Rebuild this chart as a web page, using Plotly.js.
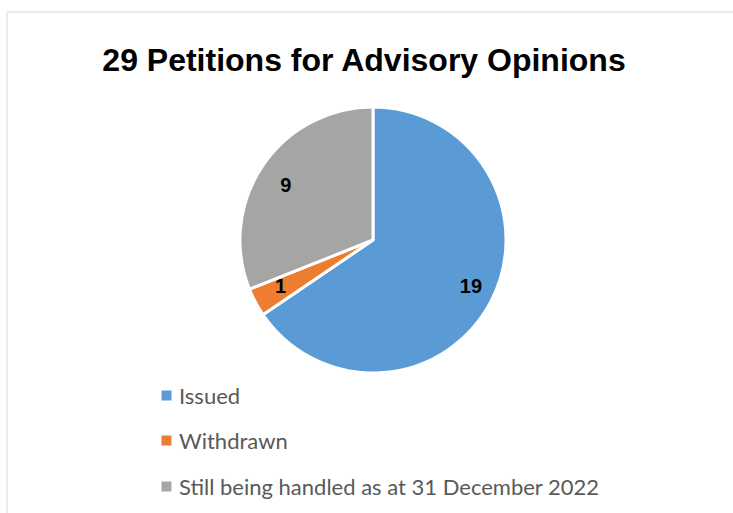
<!DOCTYPE html>
<html><head><meta charset="utf-8">
<script src="https://cdn.plot.ly/plotly-3.0.1.min.js"></script>
<style>html,body{margin:0;padding:0;background:#fff}#chart{width:733px;height:513px}</style>
</head><body><div id="chart"></div>
<script>
const labels = ["Issued", "Withdrawn", "Still being handled as at 31 December 2022"];
const values = [19, 1, 9];
const colors = ["#5B9BD5", "#ED7D31", "#A5A5A5"];
const titleText = "29 Petitions for Advisory Opinions";

const W = 733, H = 513;
const cx = 373, cy = 240, R = 133, RL = 92;
function dom(r) {
  return {x: [(cx - r) / W, (cx + r) / W], y: [1 - (cy + r) / H, 1 - (cy - r) / H]};
}

const data = [{
  type: "pie",
  labels: labels,
  values: values,
  sort: false,
  direction: "clockwise",
  rotation: 0,
  marker: {colors: colors, line: {color: "#ffffff", width: 3}},
  textinfo: "none",
  domain: dom(R),
  showlegend: false,
  hoverinfo: "label+value"
}, {
  type: "pie",
  labels: labels,
  values: values,
  sort: false,
  direction: "clockwise",
  rotation: 0,
  marker: {colors: ["rgba(0,0,0,0)", "rgba(0,0,0,0)", "rgba(0,0,0,0)"], line: {width: 0}},
  textinfo: "value",
  textposition: "outside",
  outsidetextfont: {family: "Liberation Sans, Arial, sans-serif", size: 20, color: "#000000", weight: "bold"},
  domain: dom(RL),
  showlegend: false,
  hoverinfo: "skip"
}];

const annotations = [];
const legTop = 395, legStep = 45.5;
labels.forEach((lab, i) => {
  const yy = 1 - (legTop + legStep * i) / H;
  annotations.push({xref: "paper", yref: "paper", x: 166 / W, y: yy, xanchor: "center", yanchor: "middle",
    text: " ", showarrow: false, width: 9, height: 9, bgcolor: colors[i], borderpad: 0, font: {size: 4}});
  annotations.push({xref: "paper", yref: "paper", x: 177 / W, y: yy, xanchor: "left", yanchor: "middle",
    text: lab, showarrow: false, font: {family: "Lato, sans-serif", size: 22, color: "#595959"}});
});

const layout = {
  width: W, height: H,
  margin: {l: 0, r: 0, t: 0, b: 0},
  paper_bgcolor: "#ffffff",
  title: {text: "<b>" + titleText + "</b>", x: 364 / W, xanchor: "center", y: 1 - 60 / H, yanchor: "middle", yref: "container",
          font: {family: "Liberation Sans, Arial, sans-serif", size: 32, color: "#000000"}},
  showlegend: false,
  annotations: annotations,
  shapes: [{type: "rect", xref: "paper", yref: "paper", x0: 7 / W, x1: 1.05, y0: -0.05, y1: 1 - 12 / H,
            line: {color: "#D9D9D9", width: 1}, fillcolor: "rgba(0,0,0,0)", layer: "below"}]
};

Plotly.newPlot("chart", data, layout, {displayModeBar: false, staticPlot: true});
</script></body></html>
